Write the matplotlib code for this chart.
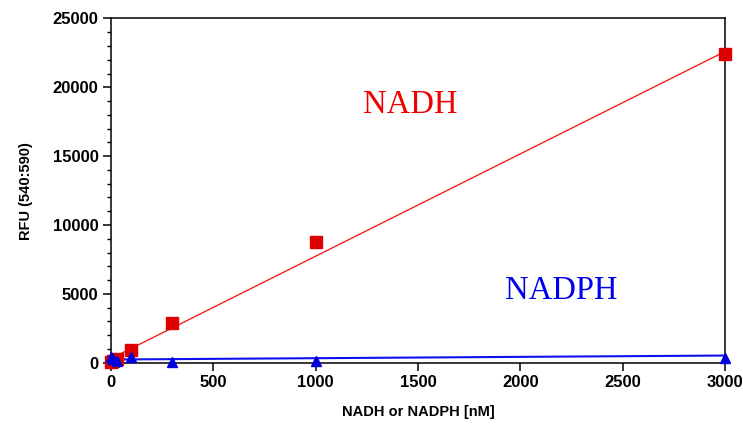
import matplotlib
matplotlib.use("Agg")
import matplotlib.pyplot as plt
from matplotlib.ticker import MultipleLocator

# Data
conc = [0, 10, 30, 100, 300, 1000, 3000]
nadh = [50, 150, 300, 900, 2900, 8800, 22450]
nadph = [400, 250, 150, 400, 80, 100, 320]
nadh_fit_x = [0, 3000]
nadh_fit_y = [300, 22600]
nadph_fit_x = [0, 3000]
nadph_fit_y = [230, 520]

x_ticks = [0, 500, 1000, 1500, 2000, 2500, 3000]
y_ticks = [0, 5000, 10000, 15000, 20000, 25000]

plt.rcParams['font.family'] = ['Liberation Sans', 'DejaVu Sans']

fig = plt.figure(figsize=(7.43, 4.26), dpi=100)
ax = fig.add_axes([0.1494, 0.1486, 0.8264, 0.808])

ax.plot(nadh_fit_x, nadh_fit_y, color='#ee2222', lw=1.0, zorder=2)
ax.plot(nadph_fit_x, nadph_fit_y, color='#1010ee', lw=1.5, zorder=2)
ax.plot(conc, nadh, linestyle='none', marker='s', markersize=8.5,
        color='#dd0000', zorder=3)
ax.plot(conc, nadph, linestyle='none', marker='^', markersize=7,
        color='#0000dd', zorder=4)

ax.set_xlim(0, 3000)
ax.set_ylim(0, 25000)
ax.set_xticks(x_ticks)
ax.set_yticks(y_ticks)
ax.yaxis.set_minor_locator(MultipleLocator(1000))
ax.tick_params(axis='both', which='major', direction='out', length=6,
               width=1.1, labelsize=12, pad=3)
ax.tick_params(axis='y', which='minor', direction='out', length=3, width=1.0)
for lab in ax.get_xticklabels() + ax.get_yticklabels():
    lab.set_fontweight('bold')
for sp in ax.spines.values():
    sp.set_linewidth(1.1)
ax.margins(0)
for a in ax.lines:
    a.set_clip_on(False)

ax.set_xlabel('NADH or NADPH [nM]', fontsize=10.5, fontweight='bold', labelpad=11)
ax.set_ylabel('RFU (540:590)', fontsize=10.5, fontweight='bold', labelpad=14)

ax.text(1460, 18700, 'NADH', color='#ee0000', fontsize=23.5,
        family=['Liberation Serif', 'DejaVu Serif'], ha='center', va='center')
ax.text(2200, 5200, 'NADPH', color='#0000ee', fontsize=23.5,
        family=['Liberation Serif', 'DejaVu Serif'], ha='center', va='center')

fig.savefig('out.png', dpi=100)
